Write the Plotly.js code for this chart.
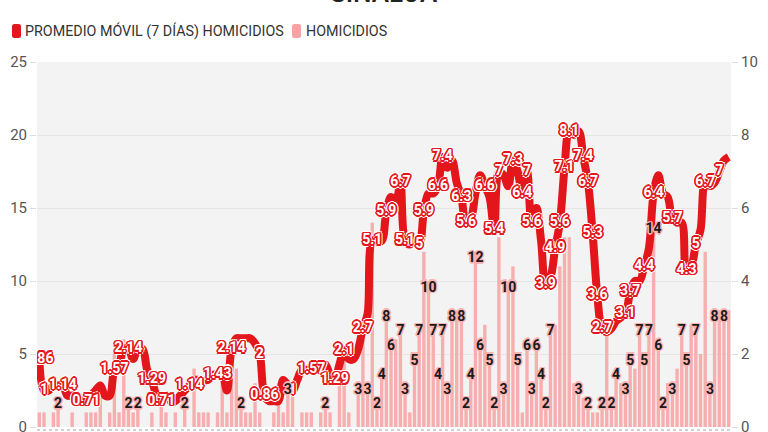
<!DOCTYPE html>
<html>
<head>
<meta charset="utf-8">
<script src="https://cdn.plot.ly/plotly-3.0.1.min.js"></script>
<style>html,body{margin:0;padding:0;background:#fff;}#chart{width:768px;height:432px;}</style>
</head>
<body>
<div id="chart"></div>
<script>
// Daily homicides (left axis)
const homicidios = [1,1,0,1,2,0,0,1,0,0, 1,1,1,2,0,1,5,1,6,2, 1,2,0,0,1,0,2,1,0,1,
  0,2,0,4,1,1,1,0,1,3, 1,4,4,2,1,1,3,1,0,0, 1,3,1,3,3,0,1,1,1,0,
  1,2,1,0,4,5,1,0,3,6, 3,14,2,4,8,6,6,7,3,1, 5,7,12,10,7,4,7,3,8,8,
  8,2,4,12,6,7,5,2,13,3, 10,11,5,1,6,3,6,4,2,7, 7,11,13,13,3,3,2,2,1,1,
  2,7,2,4,3,3,5,4,7,5, 7,14,6,2,3,3,4,7,5,7, 7,5,12,3,8,8,8,8];
// 7-day moving average (right axis)
const promedio = [1.86,1,1,1.14,1.14,1.14,0.86,0.86,0.86,0.71, 0.71,0.86,1,1.14,0.86,0.86,1.57,1.71,2.14,2.14,
  1.86,2.14,2.14,1.57,1.29,0.86,0.71,0.86,0.71,0.71, 0.86,1,1.14,1.29,1.29,1.29,1.29,1.43,1.43,1.43,
  1,2.14,2.43,2.43,2.43,2.43,2.29,2,0.86,0.71, 0.71,0.71,1.29,1.14,1,1.29,1.57,1.57,1.57,1.57,
  1.71,1.71,1.43,1.29,1.71,2.1,1.86,1.86,2.14,2.7, 3.1,5.1,5.1,5.1,5.9,6.3,6.1,6.7,5.1,5,
  5.1,5,5.9,6.4,6.4,6.6,7.4,7.1,7.3,6.7, 6.3,5.6,5.7,6.4,6.9,6.6,6.3,5.4,7,6.9,
  6.6,7.3,7,6.4,7,5.6,6,5.1,3.9,4.1, 4.9,5.6,7.1,8.1,8,8.1,7.4,6.7,5.3,3.6,
  2.7,2.6,2.7,2.9,3,3.1,3.7,4,4,4.4, 4.9,6.4,6.9,6.4,6.3,5.7,5.6,5.6,4.3,4.4,
  5,5.4,6.7,6.6,6.7,7,7.3,7.4];
// Days whose values carry a visible label
const promedioLabeled = [0,1,5,10,16,19,24,26,32,38,41,47,48,54,58,63,65,69,71,74,77,78,81,82,85,86,90,91,95,97,98,101,103,104,105,108,110,111,112,113,116,117,118,119,120,125,126,129,131,135,138,140,142,145];
const homicidiosLabeled = [4,19,21,31,43,53,61,68,70,72,73,74,75,77,78,80,81,83,84,85,86,87,88,90,91,92,93,94,96,97,99,100,102,104,105,106,107,108,109,115,117,120,122,123,125,126,128,129,130,131,132,133,135,137,138,140,143,144,146];
const leftTicks = [0,5,10,15,20,25];
const rightTicks = [0,2,4,6,8,10];
const titleText = 'SINALOA';
const legendNames = ['PROMEDIO MÓVIL (7 DÍAS) HOMICIDIOS', 'HOMICIDIOS'];

const RED = '#e3161b', PINK = '#f8aeae';
const days = homicidios.map((_, i) => i);

function outline(c, d) {
  const a = [];
  const e = +(d * 0.72).toFixed(2);
  [[d,0],[-d,0],[0,d],[0,-d],[e,e],[-e,-e],[e,-e],[-e,e]].forEach(p => a.push(p[0]+'px '+p[1]+'px 0 '+c));
  return a.join(', ');
}

const traces = [
  {type:'bar', x: days, y: homicidios, yaxis:'y', marker:{color: PINK, line:{width:0}}, hoverinfo:'skip'},
  {type:'scatter', mode:'lines', x: days, y: promedio, yaxis:'y2',
   line:{color: RED, width: 8, shape:'spline', smoothing: 1}, hoverinfo:'skip'},
  {type:'scatter', mode:'text', x: promedioLabeled, y: promedioLabeled.map(i => promedio[i]),
   text: promedioLabeled.map(i => String(promedio[i])), yaxis:'y2', textposition:'middle center',
   textfont:{family:'Roboto', size:14, color:'#ffffff', weight:700,
             shadow: outline(RED, 1.7) + ', ' + outline('#ffffff', 2.8)}, hoverinfo:'skip'},
  {type:'scatter', mode:'text', x: homicidiosLabeled, y: homicidiosLabeled.map(i => homicidios[i]),
   text: homicidiosLabeled.map(i => String(homicidios[i])), yaxis:'y3', textposition:'bottom center',
   textfont:{family:'Roboto', size:14, color:'#1a1a1a', weight:700, shadow: outline('#f9b3b3', 1.5)}, hoverinfo:'skip'}
];

const L = 37, R = 731, T = 62, B = 427;
const px = v => (v - L) / (R - L);
const py = v => (B - v) / (B - T);
function roundRect(x0, y0, x1, y1, r) {
  const X0 = px(x0), X1 = px(x1), Y0 = py(y0), Y1 = py(y1);
  const rx = r / (R - L), ry = r / (B - T);
  return `M ${X0+rx},${Y0} L ${X1-rx},${Y0} Q ${X1},${Y0} ${X1},${Y0-ry} L ${X1},${Y1+ry} Q ${X1},${Y1} ${X1-rx},${Y1} L ${X0+rx},${Y1} Q ${X0},${Y1} ${X0},${Y1+ry} L ${X0},${Y0-ry} Q ${X0},${Y0} ${X0+rx},${Y0} Z`;
}

const layout = {
  width: 768, height: 432,
  margin: {l: L, r: 768 - R, t: T, b: 432 - B, pad: 0},
  paper_bgcolor: '#ffffff', plot_bgcolor: '#f3f3f3',
  showlegend: false, bargap: 0.28,
  font: {family: 'Roboto', color: '#333'},
  xaxis: {range: [-0.5, homicidios.length - 0.5], showgrid: false, zeroline: false, showticklabels: false, ticks: '', fixedrange: true},
  yaxis: {range: [0, 25], tickvals: leftTicks, gridcolor: '#e5e5e5', gridwidth: 1, zeroline: false, ticklabeloverflow: 'allow',
          ticks: 'outside', ticklen: 6, tickcolor: '#dddddd', tickfont: {family: 'Roboto', size: 15, color: '#555'}},
  yaxis2: {range: [0, 10], tickvals: rightTicks, overlaying: 'y', side: 'right', showgrid: false, zeroline: false, ticklabeloverflow: 'allow',
           ticks: 'outside', ticklen: 6, tickcolor: '#dddddd', tickfont: {family: 'Roboto', size: 15, color: '#555'}},
  yaxis3: {range: [0, 25], overlaying: 'y', visible: false},
  shapes: [
    {type: 'path', xref: 'paper', yref: 'paper', path: roundRect(12, 24, 21, 38, 2.5), fillcolor: RED, line: {width: 0}},
    {type: 'path', xref: 'paper', yref: 'paper', path: roundRect(292, 24, 301, 38, 2.5), fillcolor: '#f7a3a3', line: {width: 0}},
    {type: 'line', xref: 'paper', yref: 'paper', x0: 0, x1: 1, y0: py(430), y1: py(430),
     line: {color: '#d0d0d0', width: 2, dash: 'dot'}}
  ],
  annotations: [
    {text: titleText, xref: 'paper', yref: 'paper', x: 0.5, y: py(-7), xanchor: 'center', yanchor: 'middle',
     showarrow: false, font: {family: 'Roboto', size: 26, color: '#222', weight: 500}},
    {text: legendNames[0], xref: 'paper', yref: 'paper', x: px(23), y: py(31), xanchor: 'left', yanchor: 'middle',
     showarrow: false, font: {family: 'Roboto', size: 14.3, color: '#333'}},
    {text: legendNames[1], xref: 'paper', yref: 'paper', x: px(304), y: py(31), xanchor: 'left', yanchor: 'middle',
     showarrow: false, font: {family: 'Roboto', size: 14.3, color: '#333'}}
  ]
};

Plotly.newPlot('chart', traces, layout, {displayModeBar: false, staticPlot: true});
</script>
</body>
</html>
